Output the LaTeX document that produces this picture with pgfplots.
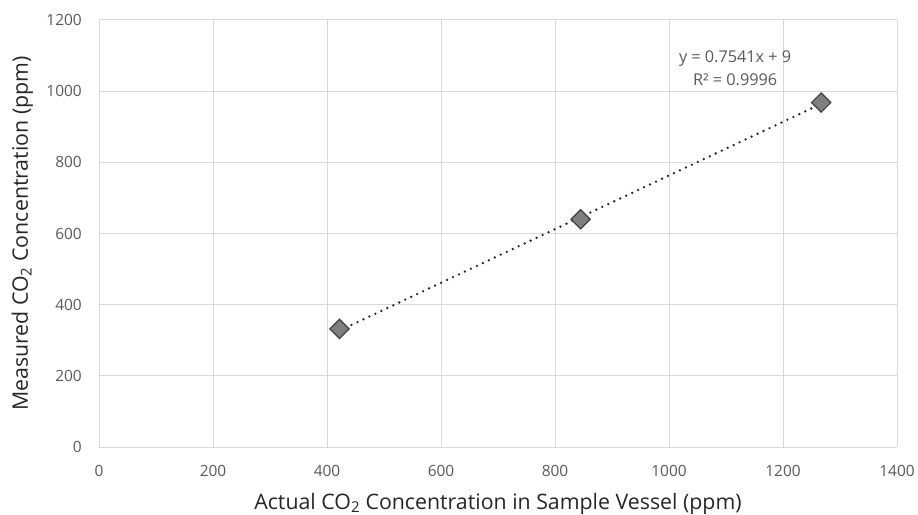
\documentclass[border=0pt]{standalone}
\usepackage{fontspec}
\setmainfont{Open Sans}
\usepackage{pgfplots}
\pgfplotsset{compat=1.18}
\definecolor{gridgray}{HTML}{D9D9D9}
\definecolor{ticktext}{HTML}{595959}
\definecolor{markfill}{HTML}{7F7F7F}
\definecolor{markdraw}{HTML}{404040}
\begin{document}
\begin{tikzpicture}[x=1bp,y=1bp]
\begin{axis}[
  scale only axis,
  width=798bp, height=427bp,
  xmin=0, xmax=1400, ymin=0, ymax=1200,
  xtick={0,200,...,1400}, ytick={0,200,...,1200},
  grid=major,
  major grid style={draw=gridgray, line width=1pt},
  axis line style={draw=none},
  tick style={draw=none},
  /pgf/number format/assume math mode=true,
  /pgf/number format/1000 sep={},
  ticklabel style={font=\fontsize{15.5}{18}\selectfont, text=ticktext, inner sep=0pt},
  xticklabel style={anchor=base, yshift=-29bp},
  yticklabel style={anchor=east, xshift=-17bp},
  label style={font=\fontsize{21.4}{26}\selectfont, text=black!85},
  xlabel={Actual CO\textsubscript{2} Concentration in Sample Vessel (ppm)},
  ylabel={Measured CO\textsubscript{2} Concentration (ppm)},
  xlabel style={at={(axis description cs:0.5,0)}, anchor=base, yshift=-62bp, inner sep=0pt},
  ylabel style={at={(axis description cs:0,0.5)}, anchor=base, rotate=0, yshift=71bp, inner sep=0pt},
  clip=false,
]
\addplot[draw=black!85, line width=2.6bp, dash pattern=on 0pt off 6.6bp, line cap=round]
  coordinates {(422,327.2) (1267,964.4)};
\addplot[only marks, mark=square*, mark size=6.8bp,
  mark options={rotate=45, fill=markfill, draw=markdraw, line width=1.2pt}]
  coordinates {(422,332) (845,640) (1267,968)};
\node[align=center, text=ticktext, font=\fontsize{16.3}{22.5}\selectfont]
  at (axis cs:1116,1065) {y = 0.7541x + 9\\R² = 0.9996};
\end{axis}
\path (current axis.south west) ++(-99bp,-68bp) (current axis.north east) ++(21bp,20bp);
\end{tikzpicture}
\end{document}
